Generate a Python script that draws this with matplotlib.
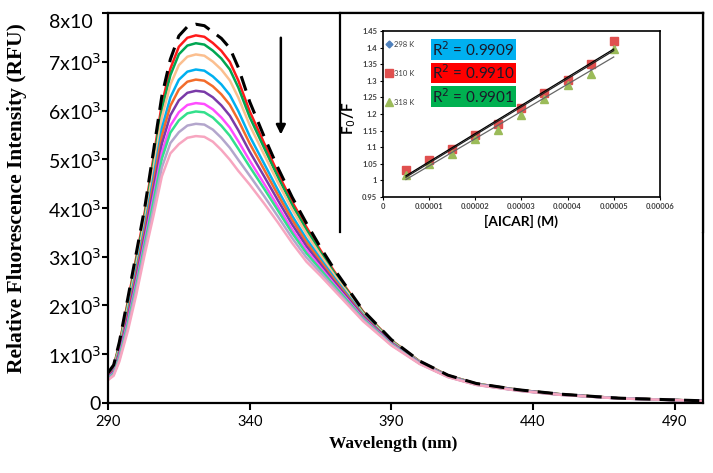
import numpy as np
import matplotlib
matplotlib.use('Agg')
import matplotlib.pyplot as plt
from matplotlib.patches import Rectangle
import matplotlib.transforms as mtransforms

# 파장 (nm)
wavelength = [290, 292, 294, 297, 300, 303, 306, 309, 312, 315, 318, 321, 324, 327, 330, 333, 336,
              340, 345, 350, 355, 360, 365, 370, 380, 390, 400, 410, 420, 435, 450, 470, 500]

# 형광 세기 (RFU) - 위에서 아래 순서
free_bsa = [620, 780, 1250, 2150, 3080, 4020, 5150, 6300, 7050, 7530, 7720, 7770, 7740, 7610, 7480, 7280, 6880,
            6180, 5480, 4820, 4220, 3690, 3190, 2730, 1900, 1300, 860, 570, 400, 270, 180, 100, 45]
red = [605, 758, 1210, 2083, 2995, 3924, 5018, 6135, 6857, 7308, 7492, 7541, 7512, 7385, 7224, 6997, 6614,
       5983, 5342, 4708, 4126, 3611, 3132, 2687, 1878, 1288, 854, 566, 397, 268, 178, 99, 44]
green = [595, 743, 1182, 2036, 2936, 3857, 4926, 6020, 6722, 7153, 7332, 7380, 7352, 7228, 7066, 6841, 6470,
         5866, 5245, 4630, 4060, 3556, 3091, 2657, 1863, 1280, 850, 563, 395, 267, 177, 99, 44]
peach = [580, 721, 1142, 1969, 2851, 3761, 4794, 5855, 6529, 6931, 7104, 7150, 7124, 7003, 6840, 6618, 6264,
         5699, 5107, 4518, 3966, 3477, 3033, 2614, 1841, 1268, 844, 559, 392, 265, 176, 99, 44]
blue = [559, 691, 1088, 1879, 2736, 3631, 4615, 5632, 6268, 6631, 6797, 6841, 6817, 6699, 6535, 6317, 5986,
        5474, 4921, 4366, 3839, 3370, 2955, 2556, 1811, 1251, 836, 554, 388, 262, 174, 98, 43]
orange = [546, 671, 1052, 1818, 2659, 3545, 4497, 5483, 6095, 6431, 6591, 6634, 6611, 6496, 6331, 6116, 5800,
          5323, 4797, 4266, 3755, 3299, 2903, 2517, 1791, 1241, 830, 550, 385, 260, 173, 98, 43]
purple = [531, 649, 1012, 1751, 2574, 3449, 4365, 5318, 5902, 6209, 6363, 6404, 6383, 6271, 6105, 5893, 5594,
          5156, 4659, 4154, 3661, 3220, 2845, 2474, 1769, 1229, 824, 546, 382, 258, 171, 97, 42]
magenta = [514, 625, 968, 1678, 2481, 3343, 4219, 5137, 5689, 5965, 6113, 6152, 6133, 6024, 5857, 5648, 5368,
           4973, 4507, 4030, 3557, 3133, 2781, 2427, 1745, 1215, 818, 542, 379, 256, 169, 96, 41]
seagreen = [503, 608, 938, 1627, 2417, 3271, 4120, 5013, 5545, 5798, 5942, 5980, 5962, 5855, 5687, 5481, 5213,
            4847, 4404, 3946, 3487, 3074, 2738, 2395, 1728, 1206, 813, 539, 377, 254, 168, 96, 41]
lavender = [487, 584, 894, 1554, 2324, 3166, 3975, 4832, 5332, 5554, 5691, 5727, 5711, 5608, 5439, 5235, 4987,
            4664, 4252, 3823, 3383, 2987, 2674, 2347, 1704, 1193, 807, 534, 373, 252, 167, 96, 41]
pink = [470, 560, 850, 1480, 2230, 3060, 3830, 4650, 5120, 5310, 5440, 5475, 5460, 5360, 5190, 4990, 4760,
        4480, 4100, 3700, 3280, 2900, 2610, 2300, 1680, 1180, 800, 530, 370, 250, 165, 95, 40]

curves = [red, green, peach, blue, orange, purple, magenta, seagreen, lavender, pink]
colors = ['#ff1a1a', '#00a651', '#fbbf8f', '#00b0f0', '#f36c2b', '#7a3aa8', '#ff4dff', '#33e08c',
          '#b3a6cc', '#f7a6c0']

y_ticks = [0, 1000, 2000, 3000, 4000, 5000, 6000, 7000, 8000]
y_labels = ['0', '1x10$^3$', '2x10$^3$', '3x10$^3$', '4x10$^3$', '5x10$^3$', '6x10$^3$', '7x10$^3$', '']
x_ticks = [290, 340, 390, 440, 490]

# 삽입 그래프 데이터 (Stern-Volmer)
aicar = [0.000005, 0.00001, 0.000015, 0.00002, 0.000025, 0.00003, 0.000035, 0.00004, 0.000045, 0.00005]
f_298 = [1.025, 1.058, 1.092, 1.130, 1.168, 1.212, 1.258, 1.300, 1.345, 1.415]
f_310 = [1.030, 1.062, 1.094, 1.136, 1.171, 1.218, 1.263, 1.303, 1.350, 1.420]
f_318 = [1.015, 1.050, 1.080, 1.126, 1.153, 1.198, 1.245, 1.286, 1.321, 1.397]
r2_texts = ['R$^2$ = 0.9909', 'R$^2$ = 0.9910', 'R$^2$ = 0.9901']
r2_colors = ['#00b0f0', '#ff0000', '#00b050']

plt.rcParams['font.family'] = ['Lato', 'DejaVu Sans']

fig = plt.figure(figsize=(7.13, 4.73), dpi=100)
ax = fig.add_axes([0.1515, 0.148, 0.8345, 0.8245])

for vals, c in zip(curves, colors):
    ax.plot(wavelength, vals, color=c, lw=1.8)
ax.plot(wavelength, free_bsa, color='black', lw=2.2, linestyle=(0, (5, 3)))

# 감소 방향 화살표
ax.annotate('', xy=(351, 5450), xytext=(351, 7550),
            arrowprops=dict(arrowstyle='-|>', color='black', lw=1.8, mutation_scale=14))

ax.set_xlim(290, 500)
ax.set_ylim(0, 8000)
ax.set_xticks(x_ticks)
ax.set_yticks(y_ticks)
ax.set_yticklabels(y_labels, fontsize=14)
ax.tick_params(axis='x', labelsize=10.5, length=5, width=1.5, direction='out')
ax.tick_params(axis='y', length=4, width=1.5, direction='out', pad=1)
for s in ax.spines.values():
    s.set_linewidth(1.6)

# 맨 위 눈금 글자 (윗부분이 잘린 형태)
trans = mtransforms.blended_transform_factory(ax.transAxes, ax.transData)
ax.text(-0.025, 7810, '8x10', transform=trans, ha='right', va='center', fontsize=14)

ax.set_ylabel('Relative Fluorescence Intensity (RFU)', family='Liberation Serif',
              fontweight='bold', fontsize=15.5)
ax.yaxis.set_label_coords(-0.136, 0.526)
ax.set_xlabel('Wavelength (nm)', family='Liberation Serif', fontweight='bold', fontsize=12.5)
ax.xaxis.set_label_coords(0.479, -0.085)

# 삽입 그래프 테두리
frame = fig.add_axes([0.477, 0.5095, 0.509, 0.4625])
frame.set_xticks([])
frame.set_yticks([])
frame.spines['bottom'].set_visible(False)
for s in ['left', 'top', 'right']:
    frame.spines[s].set_linewidth(1.6)

ins = fig.add_axes([0.537, 0.5835, 0.3885, 0.351])
ins.plot(aicar, f_298, 'D', color='#4f81bd', markersize=3.5, label='298 K')
ins.plot(aicar, f_310, 's', color='#e0504f', markersize=6, label='310 K')
ins.plot(aicar, f_318, '^', color='#9bbb59', markersize=6, label='318 K')

x_fit = np.array([aicar[0], aicar[-1]])
for f, c in [(f_298, '#222222'), (f_310, 'black'), (f_318, '#666666')]:
    k, b = np.polyfit(aicar, f, 1)
    ins.plot(x_fit, k * x_fit + b, color=c, lw=0.9)

ins.set_xlim(0, 0.00006)
ins.set_ylim(0.95, 1.45)
ins.set_xticks([0, 0.00001, 0.00002, 0.00003, 0.00004, 0.00005, 0.00006])
ins.set_xticklabels(['0', '0.00001', '0.00002', '0.00003', '0.00004', '0.00005', '0.00006'])
ins.set_yticks([0.95, 1, 1.05, 1.1, 1.15, 1.2, 1.25, 1.3, 1.35, 1.4, 1.45])
ins.set_yticklabels(['0.95', '1', '1.05', '1.1', '1.15', '1.2', '1.25', '1.3', '1.35', '1.4', '1.45'])
ins.tick_params(labelsize=5.5, labelcolor='#404040', length=2, width=0.8, pad=2)
for lab in ins.get_xticklabels() + ins.get_yticklabels():
    lab.set_fontweight('bold')
for s in ins.spines.values():
    s.set_linewidth(1.2)

ins.set_ylabel('F$_0$/F', fontsize=11, fontweight='bold')
ins.yaxis.set_label_coords(-0.09, 0.476)
ins.set_xlabel('[AICAR] (M)', fontsize=10, fontweight='bold', labelpad=4)

leg = ins.legend(loc='upper left', bbox_to_anchor=(0.0, 0.96), frameon=False, fontsize=5.5,
                 labelspacing=2.9, handlelength=0.8, handletextpad=0.2, borderaxespad=0)
for t in leg.get_texts():
    t.set_color('#404040')

# R^2 상자
for i, (txt, c) in enumerate(zip(r2_texts, r2_colors)):
    yc = 0.89 - i * 0.143
    ins.add_patch(Rectangle((0.173, yc - 0.063), 0.307, 0.126, transform=ins.transAxes,
                            facecolor=c, edgecolor='none', zorder=3))
    ins.text(0.3265, yc, txt, transform=ins.transAxes, ha='center', va='center',
             fontsize=11, color='#1a1a2a', zorder=4)

plt.savefig('out.png', dpi=100)
